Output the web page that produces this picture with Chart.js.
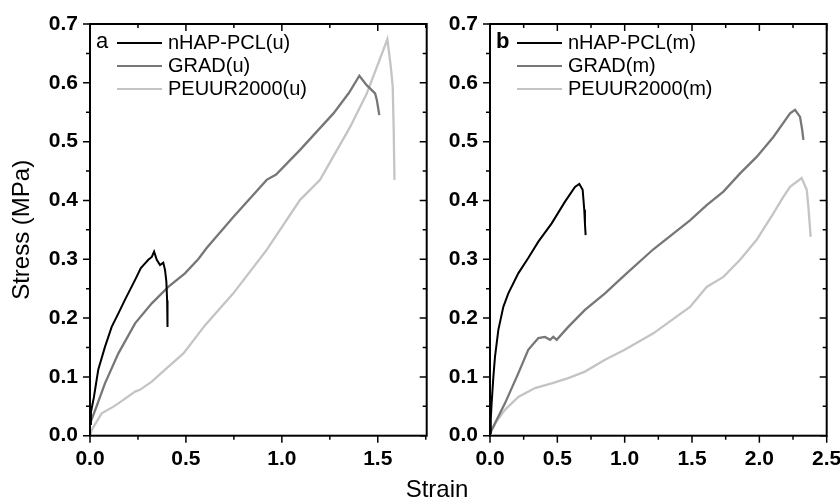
<!DOCTYPE html>
<html>
<head>
<meta charset="utf-8">
<script src="https://cdn.jsdelivr.net/npm/chart.js@4.4.1/dist/chart.umd.min.js"></script>
<style>
  html, body { margin: 0; padding: 0; background: #fff; }
  #wrap { position: relative; width: 840px; height: 499px; overflow: hidden; }
  #chartA { position: absolute; left: 0; top: 0; }
  #chartB { position: absolute; left: 440px; top: 0; }
  #xTitle { position: absolute; left: 337px; width: 200px; top: 477px; text-align: center;
            font: 24px "Liberation Sans", Arial, sans-serif; line-height: 24px; color: #000; }
</style>
</head>
<body>
<div id="wrap">
  <canvas id="chartA" width="440" height="499"></canvas>
  <canvas id="chartB" width="400" height="499"></canvas>
  <div id="xTitle">Strain</div>
</div>
<script>
// series names and colours
const namesA = ['nHAP-PCL(u)', 'GRAD(u)', 'PEUUR2000(u)'];
const namesB = ['nHAP-PCL(m)', 'GRAD(m)', 'PEUUR2000(m)'];
const colors = ['#000000', '#777777', '#c4c4c4'];

// panel a (strain / stress in MPa)
const aNhapX = [0, 0.005, 0.02, 0.043, 0.078, 0.113, 0.148, 0.182, 0.235, 0.265, 0.287, 0.304, 0.322, 0.334, 0.348, 0.365, 0.382, 0.391, 0.398, 0.402, 0.404];
const aNhapY = [0.02, 0.04, 0.065, 0.112, 0.151, 0.185, 0.208, 0.231, 0.265, 0.285, 0.293, 0.299, 0.304, 0.313, 0.299, 0.29, 0.294, 0.282, 0.262, 0.23, 0.185];
const aGradX = [0, 0.04, 0.078, 0.148, 0.235, 0.322, 0.408, 0.495, 0.566, 0.608, 0.747, 0.921, 0.97, 1.095, 1.269, 1.35, 1.404, 1.442, 1.486, 1.495, 1.508];
const aGradY = [0.02, 0.055, 0.089, 0.14, 0.191, 0.225, 0.253, 0.276, 0.301, 0.319, 0.372, 0.435, 0.444, 0.486, 0.548, 0.583, 0.612, 0.596, 0.582, 0.571, 0.545];
const aPeuuX = [0, 0.009, 0.061, 0.12, 0.148, 0.235, 0.26, 0.322, 0.4, 0.487, 0.6, 0.747, 0.921, 1.095, 1.199, 1.356, 1.443, 1.55, 1.568, 1.578, 1.583, 1.587];
const aPeuuY = [0, 0.01, 0.038, 0.049, 0.055, 0.075, 0.078, 0.092, 0.115, 0.14, 0.188, 0.242, 0.316, 0.401, 0.435, 0.525, 0.582, 0.674, 0.627, 0.593, 0.52, 0.435];

// panel b
const bNhapX = [0, 0.006, 0.012, 0.025, 0.037, 0.062, 0.099, 0.136, 0.21, 0.284, 0.359, 0.458, 0.557, 0.631, 0.663, 0.688, 0.7, 0.705, 0.71];
const bNhapY = [0.004, 0.03, 0.055, 0.1, 0.134, 0.18, 0.219, 0.242, 0.276, 0.302, 0.33, 0.361, 0.398, 0.423, 0.428, 0.418, 0.384, 0.36, 0.341];
const bGradX = [0, 0.111, 0.21, 0.284, 0.359, 0.408, 0.446, 0.47, 0.495, 0.581, 0.705, 0.854, 1.0, 1.213, 1.485, 1.609, 1.733, 1.857, 1.98, 2.104, 2.228, 2.265, 2.302, 2.318, 2.327];
const bGradY = [0.004, 0.055, 0.106, 0.146, 0.166, 0.168, 0.163, 0.168, 0.163, 0.185, 0.214, 0.242, 0.273, 0.317, 0.366, 0.392, 0.415, 0.446, 0.474, 0.508, 0.548, 0.554, 0.542, 0.52, 0.503];
const bPeuuX = [0, 0.05, 0.111, 0.21, 0.334, 0.458, 0.581, 0.705, 0.854, 1.0, 1.213, 1.485, 1.609, 1.733, 1.857, 1.98, 2.104, 2.178, 2.228, 2.314, 2.352, 2.364, 2.381];
const bPeuuY = [0.004, 0.025, 0.044, 0.066, 0.081, 0.089, 0.098, 0.109, 0.129, 0.146, 0.174, 0.219, 0.253, 0.27, 0.299, 0.333, 0.378, 0.406, 0.423, 0.438, 0.418, 0.389, 0.338];

// axis limits
const yMax = 0.7;
const xMaxA = 1.755;
const xMaxB = 2.5;

const FONT = '"Liberation Sans", Arial, sans-serif';

function zip(xs, ys) {
    return xs.map((x, i) => ({ x: x, y: ys[i] }));
}

// frame box, inward top/right ticks and the minor ticks
const frameTicks = {
    id: 'frameTicks',
    afterDatasetsDraw(chart) {
        const { ctx, chartArea: a, scales: { x, y } } = chart;
        ctx.save();
        ctx.strokeStyle = '#000';
        ctx.lineWidth = 2;
        ctx.strokeRect(a.left, a.top, a.right - a.left, a.bottom - a.top);
        ctx.lineWidth = 1.5;
        ctx.beginPath();
        for (let i = 0; i * 0.25 <= x.max + 1e-9; i++) {
            const px = x.getPixelForValue(i * 0.25);
            const len = i % 2 === 0 ? 7 : 4;
            ctx.moveTo(px, a.bottom); ctx.lineTo(px, a.bottom + len);
            ctx.moveTo(px, a.top); ctx.lineTo(px, a.top + len);
        }
        for (let i = 0; i * 0.05 <= yMax + 1e-9; i++) {
            const py = y.getPixelForValue(i * 0.05);
            const len = i % 2 === 0 ? 7 : 4;
            ctx.moveTo(a.left, py); ctx.lineTo(a.left - len, py);
            ctx.moveTo(a.right, py); ctx.lineTo(a.right - len, py);
        }
        ctx.stroke();
        ctx.restore();
    }
};

// panel letter and legend inside the plot
const panelLegend = {
    id: 'panelLegend',
    afterDraw(chart, args, opts) {
        const { ctx, chartArea: a } = chart;
        const rows = [43, 66, 89];
        ctx.save();
        ctx.textBaseline = 'middle';
        ctx.fillStyle = '#000';
        ctx.font = (opts.bold ? 'bold ' : '') + '22px ' + FONT;
        ctx.fillText(opts.letter, a.left + 6, rows[0] - 1);
        ctx.font = '20px ' + FONT;
        chart.data.datasets.forEach((ds, i) => {
            ctx.strokeStyle = ds.borderColor;
            ctx.lineWidth = 2;
            ctx.beginPath();
            ctx.moveTo(a.left + 27, rows[i]);
            ctx.lineTo(a.left + 72, rows[i]);
            ctx.stroke();
            ctx.fillStyle = '#000';
            ctx.fillText(ds.label, a.left + 78, rows[i]);
        });
        ctx.restore();
    }
};

function makeChart(id, names, series, xMax, yWidth, yTitle, letter, bold) {
    const ctx = document.getElementById(id).getContext('2d');
    return new Chart(ctx, {
        type: 'line',
        data: {
            datasets: series.map((s, i) => ({
                label: names[i],
                data: zip(s[0], s[1]),
                borderColor: colors[i],
                borderWidth: i === 0 ? 2 : 2.3,
                pointRadius: 0,
                tension: 0,
                fill: false
            }))
        },
        options: {
            responsive: false,
            animation: false,
            layout: { padding: { left: 0, right: 13.3, top: 24, bottom: 23.3 } },
            scales: {
                x: {
                    type: 'linear',
                    min: 0,
                    max: xMax,
                    grid: { display: false },
                    border: { display: false },
                    ticks: {
                        stepSize: 0.5,
                        includeBounds: false,
                        maxRotation: 0,
                        padding: 3,
                        color: '#000',
                        font: { family: FONT, size: 21, weight: 'bold' },
                        callback: v => v.toFixed(1)
                    },
                    afterFit: s => { s.height = 40; s.paddingLeft = 0; s.paddingRight = 0; }
                },
                y: {
                    min: 0,
                    max: yMax,
                    grid: { display: false },
                    border: { display: false },
                    title: {
                        display: !!yTitle,
                        text: yTitle,
                        color: '#000',
                        padding: { top: 8, bottom: 0 },
                        font: { family: FONT, size: 24, weight: 'normal' }
                    },
                    ticks: {
                        stepSize: 0.1,
                        padding: 4,
                        color: '#000',
                        font: { family: FONT, size: 21, weight: 'bold' },
                        callback: v => v.toFixed(1)
                    },
                    afterFit: s => { s.width = yWidth; s.paddingTop = 0; s.paddingBottom = 0; }
                }
            },
            plugins: {
                legend: { display: false },
                tooltip: { enabled: false },
                panelLegend: { letter: letter, bold: bold }
            }
        },
        plugins: [frameTicks, panelLegend]
    });
}

makeChart('chartA', namesA,
    [[aNhapX, aNhapY], [aGradX, aGradY], [aPeuuX, aPeuuY]],
    xMaxA, 90, 'Stress (MPa)', 'a', false);

makeChart('chartB', namesB,
    [[bNhapX, bNhapY], [bGradX, bGradY], [bPeuuX, bPeuuY]],
    xMaxB, 50, '', 'b', true);
</script>
</body>
</html>
